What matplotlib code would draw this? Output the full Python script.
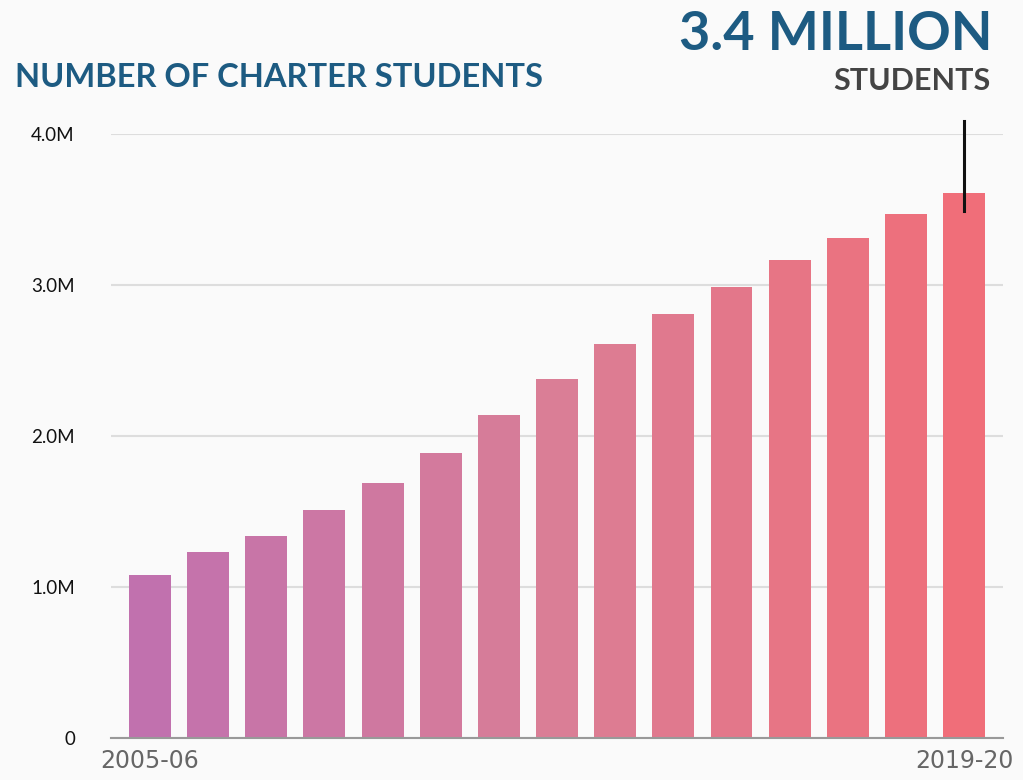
import numpy as np
import matplotlib.pyplot as plt
from matplotlib.colors import to_rgb

# school years, only first and last get a label
years = ["2005-06", "2006-07", "2007-08", "2008-09", "2009-10", "2010-11",
         "2011-12", "2012-13", "2013-14", "2014-15", "2015-16", "2016-17",
         "2017-18", "2018-19", "2019-20"]
students_m = [1.08, 1.23, 1.34, 1.51, 1.69, 1.89, 2.14, 2.38, 2.61, 2.81,
              2.99, 3.17, 3.31, 3.47, 3.61]
ytick_vals = [0, 1, 2, 3, 4]
ytick_labels = ["0", "1.0M", "2.0M", "3.0M", "4.0M"]

bg = "#fafafa"
blue = "#1d5b82"
stops = [np.array(to_rgb(c)) for c in ("#c171ae", "#da7e96", "#f06e79")]

fig = plt.figure(figsize=(10.23, 7.80), dpi=100, facecolor=bg)
ax = fig.add_axes([0.1085, 0.0538, 0.872, 0.774])
ax.set_facecolor(bg)

x = np.arange(len(years))
t = np.linspace(0, 1, len(years))
colors = []
for ti in t:
    if ti <= 0.5:
        c = stops[0] + (stops[1] - stops[0]) * (ti / 0.5)
    else:
        c = stops[1] + (stops[2] - stops[1]) * ((ti - 0.5) / 0.5)
    colors.append(tuple(c))
ax.bar(x, students_m, width=0.72, color=colors, zorder=3)

ax.set_xlim(-0.67, len(years) - 1 + 0.67)
ax.set_ylim(0, 4.0)
ax.set_yticks(ytick_vals)
ax.set_yticklabels(ytick_labels, fontsize=13.5, color="#111111", family="Lato")
ax.yaxis.grid(True, color="#dddddd", linewidth=1.5, zorder=0)
ax.tick_params(axis="y", length=0, pad=26)

ax.set_xticks([x[0], x[-1]])
ax.set_xticklabels([years[0], years[-1]], fontsize=17, color="#666666")
ax.tick_params(axis="x", length=0, pad=8)

for s in ["top", "right", "left"]:
    ax.spines[s].set_visible(False)
ax.spines["bottom"].set_color("#999999")
ax.spines["bottom"].set_linewidth(1.5)
ax.spines["bottom"].set_zorder(4)

# callout line above the last bar
ax.plot([x[-1], x[-1]], [3.49, 4.09], color="#111111", linewidth=2.2,
        clip_on=False, zorder=5)

fig.text(0.0147, 0.888, "NUMBER OF CHARTER STUDENTS", fontsize=23.5,
         fontweight="bold", color=blue, family="Lato", ha="left", va="baseline")
fig.text(0.970, 0.936, "3.4 MILLION", fontsize=39, fontweight="bold",
         color=blue, family="Lato", ha="right", va="baseline")
fig.text(0.968, 0.885, "STUDENTS", fontsize=22, fontweight="bold",
         color="#444444", family="Lato", ha="right", va="baseline")

fig.savefig("out.png", dpi=100, facecolor=bg)
